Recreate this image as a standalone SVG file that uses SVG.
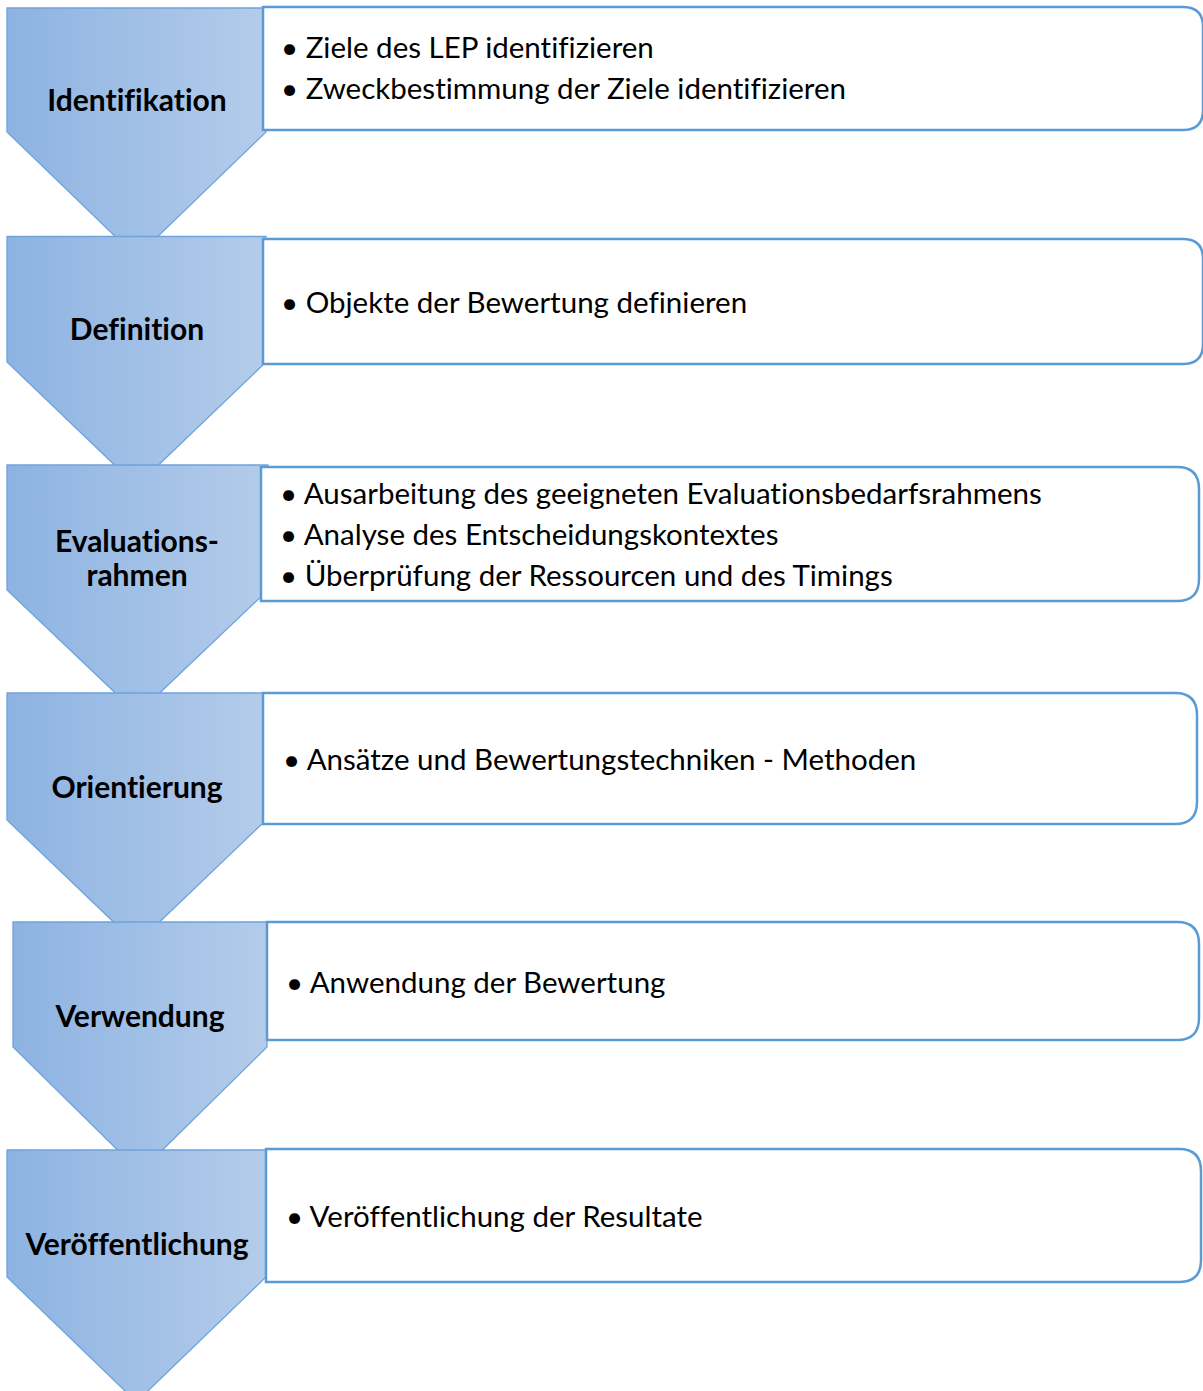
<svg xmlns="http://www.w3.org/2000/svg" width="1203" height="1391" viewBox="0 0 1203 1391">
  <defs>
    <linearGradient id="stepFill" x1="0" y1="0" x2="1" y2="0">
      <stop offset="0" stop-color="#8DB3E2"/>
      <stop offset="1" stop-color="#B4CCEA"/>
    </linearGradient>
    <style>
      .chev { fill: url(#stepFill); stroke: #6FA3DC; stroke-width: 1.3; }
      .box { fill: #FFFFFF; stroke: #5B9BD5; stroke-width: 2.5; }
      text { font-family: Lato, "Open Sans", "Liberation Sans", sans-serif; fill: #000000; font-variant-ligatures: none; }
      .label { font-weight: 700; font-size: 30px; text-anchor: middle; }
      .item { font-size: 29.5px; }
    </style>
  </defs>

  <!-- step 1 -->
  <g id="step-identifikation">
    <polygon class="chev" points="7,8 266,8 266,132 136.5,257 7,132"/>
    <path class="box" d="M263,7 H1183 Q1203,7 1203,27 V110 Q1203,130 1183,130 H263 Z"/>
    <text class="label" x="137" y="111">Identifikation</text>
    <text class="item" x="281" y="58">• Ziele des LEP identifizieren</text>
    <text class="item" x="281" y="99">• Zweckbestimmung der Ziele identifizieren</text>
  </g>

  <!-- step 2 -->
  <g id="step-definition">
    <polygon class="chev" points="7,236.5 266,236.5 266,362 136.5,486 7,362"/>
    <path class="box" d="M263,239 H1183 Q1203,239 1203,259 V344 Q1203,364 1183,364 H263 Z"/>
    <text class="label" x="137" y="340">Definition</text>
    <text class="item" x="281" y="313">• Objekte der Bewertung definieren</text>
  </g>

  <!-- step 3 -->
  <g id="step-evaluationsrahmen">
    <polygon class="chev" points="7,465 268,465 268,590 137.5,714 7,590"/>
    <path class="box" d="M261,467 H1177 Q1199,467 1199,489 V579 Q1199,601 1177,601 H261 Z"/>
    <text class="label" x="137" y="552">Evaluations-</text>
    <text class="label" x="137" y="586">rahmen</text>
    <text class="item" x="280" y="504">• Ausarbeitung des geeigneten Evaluationsbedarfsrahmens</text>
    <text class="item" x="280" y="545">• Analyse des Entscheidungskontextes</text>
    <text class="item" x="280" y="586">• Überprüfung der Ressourcen und des Timings</text>
  </g>

  <!-- step 4 -->
  <g id="step-orientierung">
    <polygon class="chev" points="7,693 266,693 266,820 136.5,944 7,820"/>
    <path class="box" d="M263,693 H1175 Q1197,693 1197,715 V802 Q1197,824 1175,824 H263 Z"/>
    <text class="label" x="137" y="798">Orientierung</text>
    <text class="item" x="283" y="770">• Ansätze und Bewertungstechniken - Methoden</text>
  </g>

  <!-- step 5 -->
  <g id="step-verwendung">
    <polygon class="chev" points="13,922 267,922 267,1047 140,1172 13,1047"/>
    <path class="box" d="M267,922 H1177 Q1199,922 1199,944 V1018 Q1199,1040 1177,1040 H267 Z"/>
    <text class="label" x="140" y="1027">Verwendung</text>
    <text class="item" x="286" y="993">• Anwendung der Bewertung</text>
  </g>

  <!-- step 6 -->
  <g id="step-veroeffentlichung">
    <polygon class="chev" points="7,1150 266,1150 266,1277 136.5,1402 7,1277"/>
    <path class="box" d="M266,1149 H1179 Q1201,1149 1201,1171 V1260 Q1201,1282 1179,1282 H266 Z"/>
    <text class="label" x="137" y="1255">Veröffentlichung</text>
    <text class="item" x="286" y="1227">• Veröffentlichung der Resultate</text>
  </g>

  <!-- flow is expressed by the chevron tips; no separate connectors -->
  <g id="connectors"/>
</svg>
